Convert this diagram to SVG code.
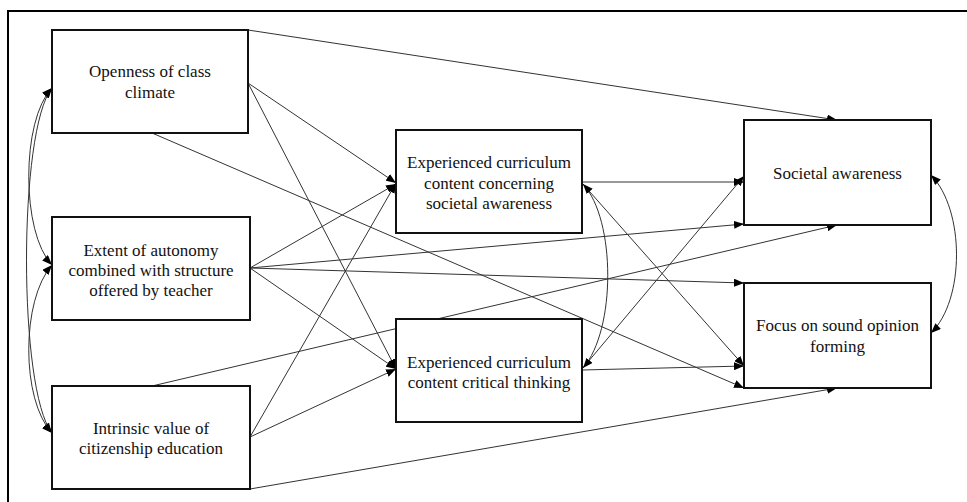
<svg xmlns="http://www.w3.org/2000/svg" width="967" height="502" viewBox="0 0 967 502">
<style>
.box{fill:#fff;stroke:#111;stroke-width:2}
.c{fill:none;stroke:#333;stroke-width:1}
.frame{fill:none;stroke:#000;stroke-width:2}
</style>
<defs>
<marker id="ah" viewBox="0 0 10 8" refX="10" refY="4" markerWidth="10" markerHeight="8" orient="auto-start-reverse" markerUnits="userSpaceOnUse"><path d="M0,0 L10,4 L0,8 z" fill="#000"/></marker>
</defs>
<rect width="967" height="502" fill="#fff"/>
<path class="frame" d="M8,502 L8,11 L967,11"/>
<g id="connectors">
<path class="c" marker-end="url(#ah)" d="M248,30 L837,120"/>
<path class="c" marker-end="url(#ah)" d="M248,83 L396,183"/>
<path class="c" marker-end="url(#ah)" d="M248,83 L396,369"/>
<path class="c" marker-end="url(#ah)" d="M152,133 L744,388"/>
<path class="c" marker-end="url(#ah)" d="M250,268 L396,184"/>
<path class="c" marker-end="url(#ah)" d="M250,268 L744,224"/>
<path class="c" marker-end="url(#ah)" d="M250,268 L744,283"/>
<path class="c" marker-end="url(#ah)" d="M250,268 L396,369"/>
<path class="c" marker-end="url(#ah)" d="M152,386 L837,225"/>
<path class="c" marker-end="url(#ah)" d="M250,437 L396,183"/>
<path class="c" marker-end="url(#ah)" d="M250,437 L396,369"/>
<path class="c" marker-end="url(#ah)" d="M250,489 L837,388"/>
<path class="c" marker-end="url(#ah)" d="M582,182 L744,182"/>
<path class="c" marker-end="url(#ah)" d="M582,183 L744,366"/>
<path class="c" marker-end="url(#ah)" d="M582,369 L744,176"/>
<path class="c" marker-end="url(#ah)" d="M582,370 L744,366"/>
<path class="c" marker-start="url(#ah)" marker-end="url(#ah)" d="M583,184 C616,220 616,330 583,368"/>
<path class="c" marker-start="url(#ah)" marker-end="url(#ah)" d="M931,175 C965,210 965,300 931,333"/>
<path class="c" marker-start="url(#ah)" marker-end="url(#ah)" d="M52,88 C21,120 21,233 52,265"/>
<path class="c" marker-start="url(#ah)" marker-end="url(#ah)" d="M52,88 C18,130 18,390 52,433"/>
<path class="c" marker-start="url(#ah)" marker-end="url(#ah)" d="M52,265 C21,300 21,400 52,433"/>
</g>
<g font-family="'Liberation Serif', 'Times New Roman', Tinos, 'DejaVu Serif', serif" font-size="17" fill="#111" text-anchor="middle">
<g id="openness">
<rect class="box" x="52" y="30" width="196" height="103"/>
<text x="150" y="77">Openness of class</text>
<text x="150" y="98">climate</text>
</g>
<g id="extent">
<rect class="box" x="52" y="217" width="198" height="103"/>
<text x="151" y="256">Extent of autonomy</text>
<text x="151" y="276">combined with structure</text>
<text x="151" y="296">offered by teacher</text>
</g>
<g id="intrinsic">
<rect class="box" x="52" y="386" width="198" height="103"/>
<text x="151" y="434">Intrinsic value of</text>
<text x="151" y="454">citizenship education</text>
</g>
<g id="exp-societal">
<rect class="box" x="396" y="130" width="186" height="103"/>
<text x="489" y="168">Experienced curriculum</text>
<text x="489" y="188.5">content concerning</text>
<text x="489" y="209">societal awareness</text>
</g>
<g id="exp-critical">
<rect class="box" x="396" y="319" width="186" height="103"/>
<text x="489" y="368">Experienced curriculum</text>
<text x="489" y="388">content critical thinking</text>
</g>
<g id="societal-awareness">
<rect class="box" x="744" y="120" width="187" height="105"/>
<text x="837.5" y="179">Societal awareness</text>
</g>
<g id="focus">
<rect class="box" x="744" y="283" width="187" height="105"/>
<text x="837.5" y="331">Focus on sound opinion</text>
<text x="837.5" y="352">forming</text>
</g>
</g>
</svg>
